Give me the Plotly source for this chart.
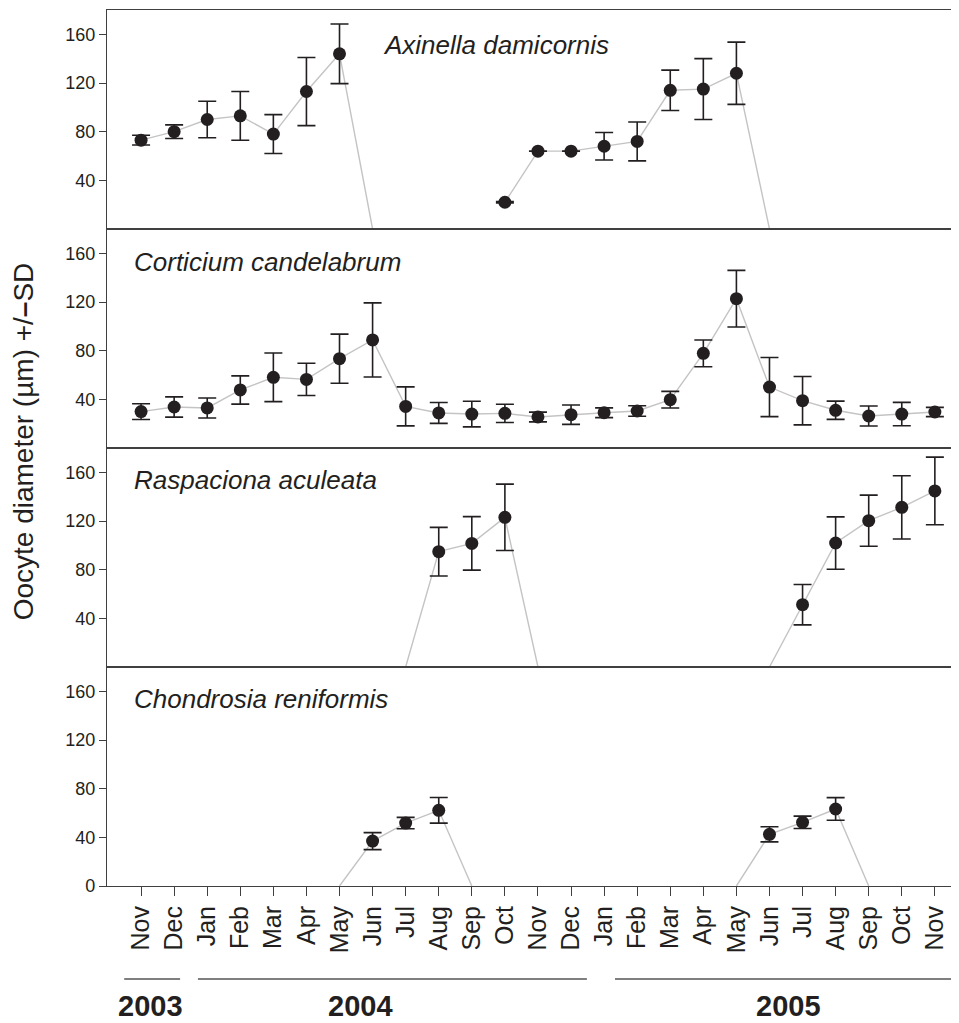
import plotly.graph_objects as go
from plotly.subplots import make_subplots

# ---------------- data ----------------
months = ["Nov", "Dec", "Jan", "Feb", "Mar", "Apr", "May", "Jun", "Jul", "Aug",
          "Sep", "Oct", "Nov", "Dec", "Jan", "Feb", "Mar", "Apr", "May", "Jun",
          "Jul", "Aug", "Sep", "Oct", "Nov"]
years = ["2003", "2004", "2005"]

species = ["Axinella damicornis", "Corticium candelabrum",
           "Raspaciona aculeata", "Chondrosia reniformis"]

N = None
axinella_mean = [73, 80, 90, 93, 78, 113, 144, 0, N, N, N, 22, 64, 64,
                 68, 72, 114, 115, 128, 0, N, N, N, N, N]
axinella_sd = [4, 5.6, 15, 20, 16, 28, 24.5, N, N, N, N, 0.5, N, N,
               11.3, 16, 16.6, 25, 25.6, N, N, N, N, N, N]

corticium_mean = [29.9, 33.7, 32.9, 47.7, 58.1, 56.4, 73.4, 88.8, 34.2, 28.8,
                  27.9, 28.5, 25.5, 27.4, 29.0, 30.4, 39.7, 77.8, 122.7, 50.1,
                  38.9, 31.0, 26.3, 27.9, 29.6]
corticium_sd = [6.5, 8.3, 8.2, 11.6, 20, 13.3, 20.2, 30.5, 16, 8.6,
                10.5, 7.5, 4, 8, 4, 4.3, 6.8, 11, 23.3, 24.3,
                19.9, 7.5, 8.2, 9.6, 3.8]

raspaciona_mean = [N, N, N, N, N, N, N, N, 0, 94.8, 101.6, 123, 0, N,
                   N, N, N, N, N, 0, 51.2, 101.9, 120.3, 131.2, 144.7]
raspaciona_sd = [N, N, N, N, N, N, N, N, N, 20, 22, 27.3, N, N,
                 N, N, N, N, N, N, 16.6, 21.5, 21, 26, 27.8]

chondrosia_mean = [N, N, N, N, N, N, 0, 36.9, 51.7, 62.2, 0, N, N, N,
                   N, N, N, N, 0, 42.5, 52.3, 63.3, 0, N, N]
chondrosia_sd = [N, N, N, N, N, N, N, 7, 4.7, 10.5, N, N, N, N,
                 N, N, N, N, N, 6.2, 5.1, 9.3, N, N, N]

series = [(axinella_mean, axinella_sd), (corticium_mean, corticium_sd),
          (raspaciona_mean, raspaciona_sd), (chondrosia_mean, chondrosia_sd)]

# ---------------- styles ----------------
FONT = "Liberation Sans, Arial, Helvetica, sans-serif"
INK = "#231f20"
FRAME = "#404040"
LINE = "#c4c4c4"

x = list(range(len(months)))

fig = make_subplots(rows=4, cols=1, shared_xaxes=True, vertical_spacing=0)

for i, (mean, sd) in enumerate(series, start=1):
    fig.add_trace(go.Scatter(x=x, y=mean, mode="lines",
                             line=dict(color=LINE, width=1.4),
                             connectgaps=False, hoverinfo="skip",
                             showlegend=False), row=i, col=1)
    ym = [v if (v is not None and v > 0) else None for v in mean]
    fig.add_trace(go.Scatter(x=x, y=ym, mode="markers",
                             marker=dict(color=INK, size=13),
                             error_y=dict(type="data", array=sd, visible=True,
                                          color=INK, thickness=1.6, width=9),
                             showlegend=False), row=i, col=1)

for i in range(1, 5):
    bottom = (i == 4)
    fig.update_xaxes(row=i, col=1, range=[-1.03, 24.73],
                     tickvals=x, ticktext=months,
                     showline=True, mirror=True, linecolor=FRAME, linewidth=1,
                     showgrid=False, zeroline=False,
                     ticks="outside" if bottom else "",
                     ticklen=9, tickwidth=1.3, tickcolor=FRAME,
                     showticklabels=bottom, tickangle=-90,
                     tickfont=dict(family=FONT, size=25, color=INK))
    fig.update_yaxes(row=i, col=1, range=[0, 180],
                     tickvals=[0, 40, 80, 120, 160] if bottom else [40, 80, 120, 160],
                     showline=True, mirror=False, linecolor=FRAME, linewidth=1.3,
                     showgrid=False, zeroline=False,
                     ticks="outside", ticklen=7, tickwidth=1.3, tickcolor=FRAME,
                     tickfont=dict(family=FONT, size=18, color=INK))

# species labels
label_pos = [(0.322, 0.960), (0.029, 0.712), (0.029, 0.464), (0.029, 0.213)]
for name, (px, py) in zip(species, label_pos):
    fig.add_annotation(text="<i>" + name + "</i>", xref="paper", yref="paper",
                       x=px, y=py, xanchor="left", yanchor="middle",
                       showarrow=False, font=dict(family=FONT, size=26, color=INK))

# y-axis title
fig.add_annotation(text="Oocyte diameter (µm) +/<b>–</b>SD", xref="paper", yref="paper",
                   x=-0.097, y=0.508, xanchor="center", yanchor="middle",
                   textangle=-90, showarrow=False,
                   font=dict(family=FONT, size=28, color=INK))

# year brackets (decoration, in month-index units)
year_spans = [(-0.51, 1.18), (1.72, 13.48), (14.33, 24.8)]
year_centers = [0.30, 6.62, 19.56]
for (a, b), c, yr in zip(year_spans, year_centers, years):
    fig.add_shape(type="line", xref="x4", yref="paper", x0=a, x1=b,
                  y0=-0.1062, y1=-0.1062, line=dict(color="#555555", width=1.6))
    fig.add_annotation(text="<b>" + yr + "</b>", xref="x4", yref="paper",
                       x=c, y=-0.137, xanchor="center", yanchor="middle",
                       showarrow=False, font=dict(family=FONT, size=29, color=INK))

# page body has an 8px margin: figure placed at (8, 8)
fig.update_layout(width=951, height=1015,
                  margin=dict(l=99, r=0, t=2, b=137),
                  paper_bgcolor="white", plot_bgcolor="white",
                  showlegend=False)

fig.write_html("out.html")
